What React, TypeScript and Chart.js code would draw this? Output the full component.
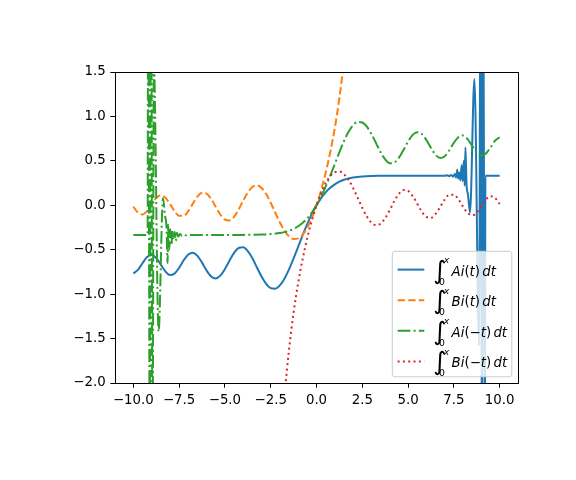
import React, { useEffect, useRef } from "react";
import { Chart, registerables } from "chart.js";

Chart.register(...registerables);

// ---- data ----
const aiX = [
  -10, -9.75, -9.5, -9.25, -9, -8.75, -8.5, -8.25, -8, -7.75, -7.5, -7.25, -7, -6.75, -6.5, -6.25,
  -6, -5.75, -5.5, -5.25, -5, -4.75, -4.5, -4.25, -4, -3.75, -3.5, -3.25, -3, -2.75, -2.5, -2.25,
  -2, -1.75, -1.5, -1.25, -1, -0.75, -0.5, -0.25, 0, 0.25, 0.5, 0.75, 1, 1.25, 1.5, 1.75, 2, 2.5,
  3, 3.5, 4, 5, 6, 7,
  7.15, 7.25, 7.35, 7.45, 7.55, 7.62, 7.68, 7.74, 7.8, 7.86, 7.92, 7.98, 8.04, 8.09, 8.13, 8.19,
  8.27, 8.38, 8.62, 8.88, 8.95, 9.03, 9.1, 9.19, 9.22, 10,
];
const aiY = [
  -0.766, -0.727, -0.652, -0.583, -0.559, -0.593, -0.668, -0.744, -0.785, -0.769, -0.704, -0.619,
  -0.553, -0.533, -0.569, -0.645, -0.734, -0.801, -0.823, -0.792, -0.718, -0.623, -0.536, -0.481,
  -0.473, -0.516, -0.596, -0.7, -0.802, -0.884, -0.932, -0.938, -0.902, -0.827, -0.722, -0.598,
  -0.466, -0.333, -0.209, -0.097, 0, 0.081, 0.146, 0.197, 0.236, 0.266, 0.287, 0.302, 0.312, 0.324,
  0.33, 0.332, 0.333, 0.333, 0.333, 0.333,
  0.338, 0.328, 0.342, 0.322, 0.352, 0.31, 0.4, 0.3, 0.37, 0.28, 0.45, 0.27, 0.5, 0.22, 0.65, 0.24,
  0.12, -0.08, 1.42, -1.58, 3.0, -3.0, 3.0, -3.0, 0.333, 0.333,
];

const biX = [
  -10, -9.75, -9.5, -9.25, -9, -8.75, -8.5, -8.25, -8, -7.75, -7.5, -7.25, -7, -6.75, -6.5, -6.25,
  -6, -5.75, -5.5, -5.25, -5, -4.75, -4.5, -4.25, -4, -3.75, -3.5, -3.25, -3, -2.75, -2.5, -2.25,
  -2, -1.75, -1.5, -1.25, -1, -0.75, -0.5, -0.25, 0, 0.25, 0.5, 0.75, 1, 1.25, 1.5, 1.75, 2,
];
const biY = [
  -0.015, -0.082, -0.103, -0.065, 0.01, 0.083, 0.113, 0.086, 0.015, -0.066, -0.119, -0.119, -0.065,
  0.019, 0.098, 0.141, 0.131, 0.072, -0.017, -0.104, -0.161, -0.171, -0.129, -0.047, 0.054, 0.144,
  0.206, 0.223, 0.195, 0.127, 0.028, -0.084, -0.194, -0.286, -0.35, -0.38, -0.373, -0.329, -0.25,
  -0.14, 0, 0.168, 0.365, 0.597, 0.872, 1.207, 1.625, 2.162, 2.873,
];

const aiNegX = [
  -10, -9.22, -9.19, -9.1, -9.03, -8.95, -8.88, -8.62, -8.38, -8.27, -8.19, -8.13, -8.09, -8.04,
  -7.98, -7.92, -7.86, -7.8, -7.74, -7.68, -7.62, -7.55, -7.45, -7.35, -7.25, -7.15, -7, -6, -5, -4,
  -3.5, -3, -2.5, -2, -1.75, -1.5, -1.25, -1, -0.75, -0.5, -0.25, 0, 0.25, 0.5, 0.75, 1, 1.25, 1.5,
  1.75, 2, 2.25, 2.5, 2.75, 3, 3.25, 3.5, 3.75, 4, 4.25, 4.5, 4.75, 5, 5.25, 5.5, 5.75, 6, 6.25, 6.5,
  6.75, 7, 7.25, 7.5, 7.75, 8, 8.25, 8.5, 8.75, 9, 9.25, 9.5, 9.75, 10,
];
const aiNegY = [
  -0.333, -0.333, 3.0, -3.0, 3.0, -3.0, 1.58, -1.42, 0.08, -0.12, -0.24, -0.65, -0.22, -0.5, -0.27,
  -0.45, -0.28, -0.37, -0.3, -0.4, -0.31, -0.352, -0.322, -0.342, -0.328, -0.338, -0.333, -0.333,
  -0.333, -0.333, -0.332, -0.33, -0.324, -0.312, -0.302, -0.287, -0.266, -0.236, -0.197, -0.146,
  -0.081, 0, 0.097, 0.209, 0.333, 0.466, 0.598, 0.722, 0.827, 0.902, 0.938, 0.932, 0.884, 0.802,
  0.7, 0.596, 0.516, 0.473, 0.481, 0.536, 0.623, 0.718, 0.792, 0.823, 0.801, 0.734, 0.645, 0.569,
  0.533, 0.553, 0.619, 0.704, 0.769, 0.785, 0.744, 0.668, 0.593, 0.559, 0.583, 0.652, 0.727, 0.766,
];

const biNegX = [
  -2, -1.75, -1.5, -1.25, -1, -0.75, -0.5, -0.25, 0, 0.25, 0.5, 0.75, 1, 1.25, 1.5, 1.75, 2, 2.25,
  2.5, 2.75, 3, 3.25, 3.5, 3.75, 4, 4.25, 4.5, 4.75, 5, 5.25, 5.5, 5.75, 6, 6.25, 6.5, 6.75, 7, 7.25,
  7.5, 7.75, 8, 8.25, 8.5, 8.75, 9, 9.25, 9.5, 9.75, 10,
];
const biNegY = [
  -2.873, -2.162, -1.625, -1.207, -0.872, -0.597, -0.365, -0.168, 0, 0.14, 0.25, 0.329, 0.373, 0.38,
  0.35, 0.286, 0.194, 0.084, -0.028, -0.127, -0.195, -0.223, -0.206, -0.144, -0.054, 0.047, 0.129,
  0.171, 0.161, 0.104, 0.017, -0.072, -0.131, -0.141, -0.098, -0.019, 0.065, 0.119, 0.119, 0.066,
  -0.015, -0.086, -0.113, -0.083, -0.01, 0.065, 0.103, 0.082, 0.015,
];

const xTickValues = [-10, -7.5, -5, -2.5, 0, 2.5, 5, 7.5, 10];
const yTickValues = [-2, -1.5, -1, -0.5, 0, 0.5, 1, 1.5];

const seriesLabels = ["∫₀ˣ Ai(t) dt", "∫₀ˣ Bi(t) dt", "∫₀ˣ Ai(−t) dt", "∫₀ˣ Bi(−t) dt"];
// legend text pieces: i = italic, r = upright, s = thin space
const legendParts: [string, string][][] = [
  [["Ai", "i"], ["(", "r"], ["t", "i"], [")", "r"], ["", "s"], ["dt", "i"]],
  [["Bi", "i"], ["(", "r"], ["t", "i"], [")", "r"], ["", "s"], ["dt", "i"]],
  [["Ai", "i"], ["(", "r"], ["−", "r"], ["t", "i"], [")", "r"], ["", "s"], ["dt", "i"]],
  [["Bi", "i"], ["(", "r"], ["−", "r"], ["t", "i"], [")", "r"], ["", "s"], ["dt", "i"]],
];

const colors = ["#1f77b4", "#ff7f0e", "#2ca02c", "#d62728"];
const dashes: number[][] = [[], [7.4, 3.2], [12.8, 3.2, 2, 3.2], [2, 3.3]];

const FONT = '"DejaVu Sans", sans-serif';
const FS = 13.33;

const fmt = (v: number | string) => {
  const n = Number(v);
  return (n < 0 ? "\u2212" : "") + Math.abs(n).toFixed(1);
};

const zip = (xs: number[], ys: number[]) => xs.map((x, i) => ({ x, y: ys[i] }));

const frameLegendPlugin = {
  id: "frameLegend",
  afterDraw(chart: any) {
    const ctx: CanvasRenderingContext2D = chart.ctx;
    const { left, top, right, bottom } = chart.chartArea;
    ctx.save();
    ctx.setLineDash([]);
    ctx.strokeStyle = "#000";
    ctx.lineWidth = 1;
    ctx.strokeRect(left + 0.5, top + 0.5, right - left, bottom - top);

    // legend box (lower right)
    const bR = right - 6.2;
    const bB = bottom - 6.2;
    const bW = 119.5;
    const bH = 125.5;
    const bL = bR - bW;
    const bT = bB - bH;
    const r = 2.7;
    ctx.beginPath();
    ctx.moveTo(bL + r, bT);
    ctx.lineTo(bR - r, bT);
    ctx.arcTo(bR, bT, bR, bT + r, r);
    ctx.lineTo(bR, bB - r);
    ctx.arcTo(bR, bB, bR - r, bB, r);
    ctx.lineTo(bL + r, bB);
    ctx.arcTo(bL, bB, bL, bB - r, r);
    ctx.lineTo(bL, bT + r);
    ctx.arcTo(bL, bT, bL + r, bT, r);
    ctx.closePath();
    ctx.fillStyle = "rgba(255,255,255,0.8)";
    ctx.fill();
    ctx.strokeStyle = "#cccccc";
    ctx.lineWidth = 1;
    ctx.stroke();

    for (let i = 0; i < legendParts.length; i++) {
      const cy = bT + 18.3 + i * 30.6;
      ctx.beginPath();
      ctx.setLineDash(dashes[i]);
      ctx.strokeStyle = colors[i];
      ctx.lineWidth = 2;
      ctx.lineCap = "butt";
      ctx.moveTo(bL + 5.3, cy);
      ctx.lineTo(bL + 32, cy);
      ctx.stroke();
      ctx.setLineDash([]);

      ctx.fillStyle = "#000";
      ctx.textAlign = "left";
      ctx.textBaseline = "alphabetic";
      // integral sign scaled to the reference height
      ctx.font = `16px ${FONT}`;
      const m = ctx.measureText("∫");
      const inkH = m.actualBoundingBoxAscent + m.actualBoundingBoxDescent || 18;
      const sc = 27 / inkH;
      ctx.font = `${16 * sc}px ${FONT}`;
      const m2 = ctx.measureText("∫");
      ctx.fillText("∫", bL + 41.7 + m2.actualBoundingBoxLeft, cy + 15 - m2.actualBoundingBoxDescent);
      ctx.font = `9.33px ${FONT}`;
      ctx.fillText("0", bL + 46.7, cy + 15);
      ctx.font = `italic 9.33px ${FONT}`;
      ctx.fillText("x", bL + 51.5, cy - 6.5);

      let x = bL + 59.3;
      for (const [t, s] of legendParts[i]) {
        if (s === "s") {
          x += 2.2;
          continue;
        }
        ctx.font = `${s === "i" ? "italic " : ""}${FS}px ${FONT}`;
        ctx.fillText(t, x, cy + 6);
        x += ctx.measureText(t).width;
      }
    }
    ctx.restore();
  },
};

export default function App() {
  const ref = useRef<HTMLCanvasElement>(null);
  useEffect(() => {
    const seriesX = [aiX, biX, aiNegX, biNegX];
    const seriesY = [aiY, biY, aiNegY, biNegY];
    const datasets = seriesX.map((xs, i) => ({
      label: seriesLabels[i],
      data: zip(xs, seriesY[i]),
      borderColor: colors[i],
      backgroundColor: colors[i],
      borderWidth: 2,
      borderDash: dashes[i],
      borderJoinStyle: "round" as const,
      pointRadius: 0,
      fill: false,
      cubicInterpolationMode: "monotone" as const,
      clip: 0,
      order: 4 - i,
    }));
    const tickFont = { family: FONT, size: FS };
    const chart = new Chart(ref.current as HTMLCanvasElement, {
      type: "line",
      data: { datasets },
      options: {
        responsive: false,
        animation: false,
        devicePixelRatio: 1,
        layout: { padding: { top: 72, right: 58, left: 0, bottom: 0 } },
        plugins: { legend: { display: false }, tooltip: { enabled: false } },
        scales: {
          x: {
            type: "linear",
            min: -11,
            max: 11,
            afterFit: (s: any) => {
              s.height = 97;
            },
            afterBuildTicks: (s: any) => {
              s.ticks = xTickValues.map((v) => ({ value: v }));
            },
            grid: {
              display: true,
              drawOnChartArea: false,
              drawTicks: true,
              tickLength: 4.67,
              color: "#000",
              lineWidth: 1,
            },
            border: { display: false },
            ticks: {
              font: tickFont,
              color: "#000",
              padding: 4.67,
              maxRotation: 0,
              autoSkip: false,
              callback: (v: any) => fmt(v),
            },
          },
          y: {
            type: "linear",
            min: -2,
            max: 1.5,
            afterFit: (s: any) => {
              s.width = 115;
            },
            afterBuildTicks: (s: any) => {
              s.ticks = yTickValues.map((v) => ({ value: v }));
            },
            grid: {
              display: true,
              drawOnChartArea: false,
              drawTicks: true,
              tickLength: 4.67,
              color: "#000",
              lineWidth: 1,
            },
            border: { display: false },
            ticks: {
              font: tickFont,
              color: "#000",
              padding: 4.67,
              autoSkip: false,
              callback: (v: any) => fmt(v),
            },
          },
        },
      },
      plugins: [frameLegendPlugin],
    } as any);
    return () => chart.destroy();
  }, []);
  return (
    <div style={{ position: "absolute", left: 0, top: 0, width: 576, height: 480, background: "#fff" }}>
      <canvas ref={ref} width={576} height={480} style={{ display: "block", width: 576, height: 480 }} />
    </div>
  );
}
